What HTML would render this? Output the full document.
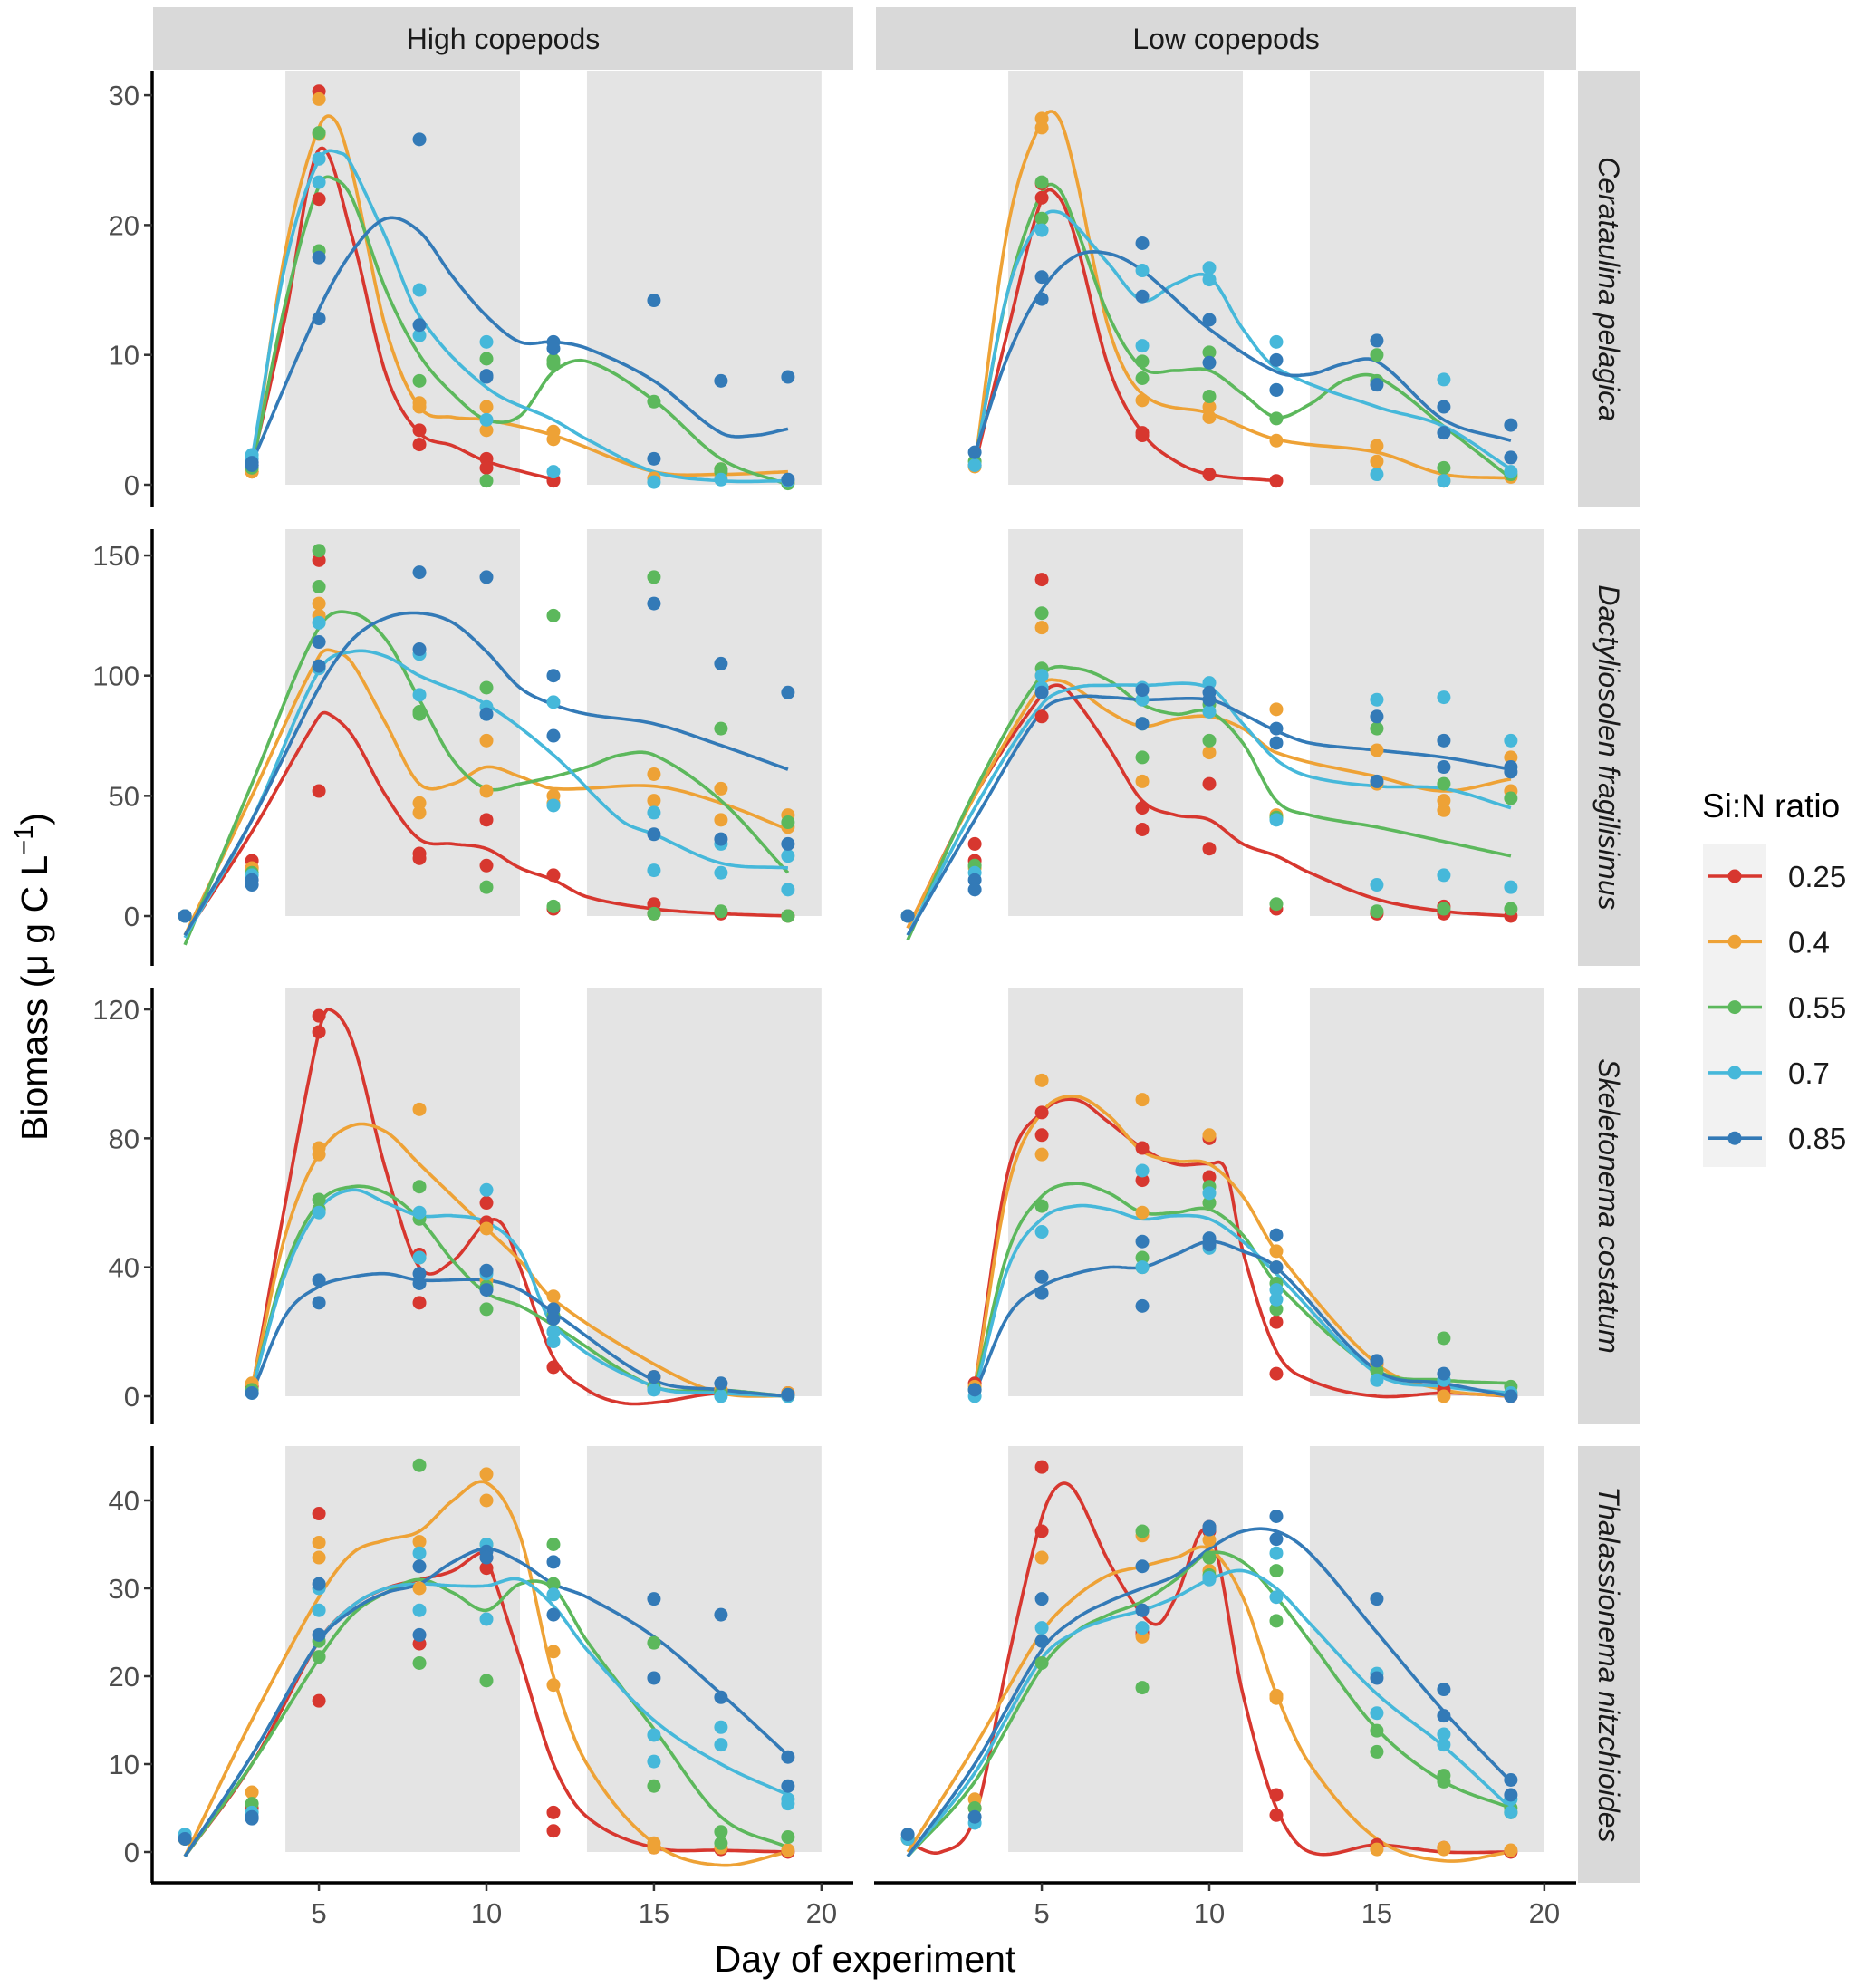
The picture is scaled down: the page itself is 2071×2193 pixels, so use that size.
<!DOCTYPE html>
<html><head><meta charset="utf-8"><style>
html,body{margin:0;padding:0;background:#fff;}
svg{display:block;font-family:"Liberation Sans",Arial,sans-serif;}
</style></head><body>
<svg id="chart" width="2071" height="2193" viewBox="0 0 2071 2193" xmlns="http://www.w3.org/2000/svg"></svg>
<script>
const ratios = ['0.25','0.4','0.55','0.7','0.85'];
const colors = ['#d7372f','#eea236','#5cb85c','#46b8da','#337ab7'];
const columns = ['High copepods','Low copepods'];
const speciesNames = ['Cerataulina pelagica','Dactyliosolen fragilisimus','Skeletonema costatum','Thalassionema nitzchioides'];
const yTicksCera = [0,10,20,30];
const yTicksDact = [0,50,100,150];
const yTicksSkel = [0,40,80,120];
const yTicksThal = [0,10,20,30,40];
const xTicks = [5,10,15,20];
const shadeDays = [[4,11],[13,20]];

const ptsCeraHigh = [
 [[3,1.5,1],[5,30.3,22],[8,4.2,3.1],[10,2,1.3],[12,0.4,0.3]],
 [[3,1,1],[5,29.7,27],[8,6.3,6],[10,6,4.2],[12,4.1,3.5],[15,0.5],[17,1.2,0.8],[19,0.2]],
 [[3,1.3],[5,27.1,18],[8,8],[10,9.7,0.3],[12,9.3,9.6],[15,6.4],[17,1.2,1],[19,0.1]],
 [[3,2.3,2],[5,25.1,23.3],[8,15,11.5],[10,11,5],[12,1],[15,0.2],[17,0.4],[19,0.3]],
 [[3,1.7,1.5],[5,17.5,12.8],[8,26.6,12.3],[10,8.4,8.3],[12,11,10.5],[15,14.2,2],[17,8],[19,8.3,0.4]]];
const ptsCeraLow = [
 [[3,1.5],[5,23.2,22.1],[8,4,3.8],[10,0.8],[12,0.3]],
 [[3,1.4],[5,28.2,27.5],[8,6.5],[10,6,5.2],[12,3.4],[15,3,1.8],[17,0.3],[19,0.6]],
 [[3,1.8],[5,23.3,20.5],[8,9.5,8.2],[10,10.2,6.8],[12,5.1],[15,10,8],[17,1.3],[19,0.8]],
 [[3,1.5],[5,19.6],[8,16.5,10.7],[10,16.7,15.8],[12,11,7.3],[15,0.8],[17,8.1,0.3],[19,1]],
 [[3,2.5],[5,16,14.3],[8,18.6,14.5],[10,12.7,9.4],[12,9.6,7.3],[15,11.1,7.7],[17,6,4],[19,4.6,2.1]]];
const ptsDactHigh = [
 [[1,0],[3,23,20],[5,148,52],[8,26,24],[10,40,21],[12,17,3],[15,5,1],[17,1],[19,0]],
 [[1,0],[3,20],[5,130,125],[8,47,43],[10,73,52],[12,50,47],[15,59,48],[17,53,40],[19,42,37]],
 [[1,0],[3,18],[5,152,137],[8,85,84],[10,95,12],[12,125,4],[15,141,1],[17,78,2],[19,39,0]],
 [[1,0],[3,17],[5,122,103],[8,109,92],[10,87,84],[12,89,46],[15,43,19],[17,30,18],[19,25,11]],
 [[1,0],[3,15,13],[5,114,104],[8,143,111],[10,141,84],[12,100,75],[15,130,34],[17,105,32],[19,93,30]]];
const ptsDactLow = [
 [[1,0],[3,30,23],[5,140,83],[8,45,36],[10,55,28],[12,3],[15,1],[17,4,1],[19,0]],
 [[1,0],[3,20],[5,120,100],[8,56],[10,68],[12,86,42],[15,69,55],[17,48,44],[19,66,52]],
 [[1,0],[3,21],[5,126,103],[8,66,80],[10,73,88],[12,5,41],[15,78,2],[17,55,3],[19,49,3]],
 [[1,0],[3,18],[5,100,95],[8,90,95],[10,97,85],[12,40],[15,90,13],[17,91,17],[19,73,12]],
 [[1,0],[3,15,11],[5,93],[8,94,80],[10,90,93],[12,78,72],[15,83,56],[17,73,62],[19,62,60]]];
const ptsSkelHigh = [
 [[3,3],[5,118,113],[8,44,29],[10,60,54],[12,9],[15,6],[17,2],[19,1]],
 [[3,4],[5,77,75],[8,89,43],[10,52,36],[12,31,25],[15,6],[17,2],[19,1]],
 [[3,2],[5,61,58],[8,65,55],[10,34,27],[12,25,20],[15,3],[17,1],[19,0]],
 [[3,1],[5,57],[8,57,43],[10,64,38],[12,20,17],[15,2],[17,0],[19,0]],
 [[3,1],[5,36,29],[8,38,35],[10,39,33],[12,27,24],[15,6],[17,4],[19,0.5]]];
const ptsSkelLow = [
 [[3,4],[5,88,81],[8,77,67],[10,80,68],[12,23,7],[15,10],[17,2],[19,0]],
 [[3,3],[5,98,75],[8,92,57],[10,81,60],[12,45,40],[15,10],[17,0],[19,1]],
 [[3,2],[5,59],[8,43,40],[10,65,60],[12,35,27],[15,8],[17,18,5],[19,3]],
 [[3,0],[5,51],[8,70,40],[10,63,46],[12,33,30],[15,5],[17,5],[19,1]],
 [[3,2],[5,37,32],[8,48,28],[10,49,47],[12,50,40],[15,11],[17,7],[19,0]]];
const ptsThalHigh = [
 [[1,1.5],[3,5],[5,38.5,17.2],[8,23.7],[10,33.5,32.3],[12,4.5,2.4],[15,0.5],[17,0.3],[19,0]],
 [[1,1.5],[3,6.8],[5,35.2,33.5],[8,35.3,30],[10,43,40],[12,22.8,19],[15,1,0.5],[17,0.5],[19,0.2]],
 [[1,1.5],[3,5.5],[5,22.2,24],[8,44,21.5],[10,35,19.5],[12,35,30.5],[15,23.8,7.5],[17,2.3,1],[19,1.7]],
 [[1,2],[3,4.5],[5,30,27.5],[8,34,27.5],[10,35,26.5],[12,29.3],[15,13.3,10.3],[17,14.2,12.2],[19,6,5.5]],
 [[1,1.5],[3,4,3.8],[5,30.5,24.7],[8,32.5,24.7],[10,34.2,33.5],[12,33,27],[15,28.8,19.8],[17,27,17.6],[19,10.8,7.5]]];
const ptsThalLow = [
 [[1,1.5],[3,5],[5,43.8,36.5],[8,25,24.7],[10,37,36.5],[12,6.5,4.2],[15,0.8],[17,0.5],[19,0]],
 [[1,1.5],[3,6],[5,33.5],[8,24.5,36],[10,35.5,32],[12,17.8,17.5],[15,0.3],[17,0.5,0.3],[19,0.2]],
 [[1,1.5],[3,5],[5,21.5],[8,36.5,18.7],[10,33.5,31.5],[12,32,26.3],[15,13.8,11.4],[17,8.7,8],[19,5,4.5]],
 [[1,1.5],[3,3.3],[5,25.5],[8,27.5,25.5],[10,31.2,31],[12,34,29],[15,20.3,15.8],[17,13.4,12.2],[19,6,4.5]],
 [[1,2],[3,4],[5,28.8,24],[8,32.5,27.5],[10,37,36.7],[12,38.2,35.6],[15,28.8,19.8],[17,18.5,15.5],[19,8.2,6.5]]];

const curCeraHigh = [
 [[3,1.5],[4,13],[5,25.8],[6,19],[7,8.5],[8,4],[9,3],[10,1.8],[12,0.4]],
 [[3,1],[4,18],[5,27.5],[5.5,28],[6,24],[7,12],[8,6],[9,5.2],[10,5],[12,3.8],[15,1],[17,0.8],[19,1]],
 [[3,1.2],[4,14],[5,23],[5.5,23.5],[6,22],[7,15],[8,10],[9,7],[10,5],[11,5.3],[12,8.7],[13,9.5],[15,6.5],[17,2],[19,0]],
 [[3,2],[4,17],[5,25],[5.7,25.5],[6,24.5],[7,19],[8,13],[10,7.5],[12,5],[13,3.5],[15,1],[17,0.3],[19,0.3]],
 [[3,1.7],[5,13.5],[6,18],[7,20.5],[8,19.5],[9,16],[10,13],[11,11],[12,11],[13,10.5],[15,8],[17,4],[18,3.8],[19,4.3]]];
const curCeraLow = [
 [[3,1.5],[4,12],[5,22],[5.5,22.2],[6,19],[7,9],[8,4],[9,1.8],[10,0.8],[12,0.3]],
 [[3,1.5],[4,20],[5,28],[5.5,28.3],[6,24],[7,12],[8,7],[10,5.5],[12,3.5],[15,2.5],[17,0.8],[19,0.5]],
 [[3,1.8],[4,15],[5,22.5],[5.5,22.8],[6,20],[7,13],[8,9],[9,8.8],[10,8.8],[11,7],[12,5.2],[13,6.2],[14,8],[15,8.3],[17,4.5],[19,0.5]],
 [[3,1.7],[4,15],[5,20.5],[5.5,21],[6,20],[7,17],[8,14.2],[9,15.5],[10,16],[11,12],[12,9],[15,6],[17,4.5],[19,1.2]],
 [[3,2.4],[4,10],[5,15],[6,17.6],[7,17.8],[8,16.5],[10,12],[12,8.7],[13,8.5],[14,9.3],[15,9.5],[17,5],[19,3.4]]];
const curDactHigh = [
 [[1,-8],[3,35],[5,83],[5.3,84],[6,75],[7,50],[8,32],[9,30],[10,28],[11,20],[12,15],[13,8],[15,3],[17,1],[19,0]],
 [[1,-8],[3,50],[5,108],[5.5,110],[6,105],[7,80],[8,55],[9,55],[10,62],[11,58],[12,53],[15,54],[17,47],[19,36]],
 [[1,-12],[3,55],[5,120],[6,126],[7,115],[8,90],[9,65],[10,53],[11,55],[12,58],[13,62],[14,67],[15,67],[17,48],[19,18]],
 [[1,-9],[3,40],[5,102],[6,110],[7,108],[8,100],[10,88],[12,67],[14,40],[15,34],[17,22],[19,20]],
 [[1,-8],[3,40],[5,95],[6,115],[7,124],[8,126],[9,122],[10,110],[11,95],[12,88],[13,84],[15,80],[17,71],[19,61]]];
const curDactLow = [
 [[1,-5],[3,50],[5,92],[5.5,96],[6,90],[7,70],[8,48],[9,42],[10,40],[11,30],[12,25],[13,18],[15,7],[17,2],[19,0]],
 [[1,-5],[3,50],[5,96],[5.5,98],[6,95],[7,85],[8,79],[9,82],[10,83],[11,78],[12,68],[15,58],[17,52],[19,57]],
 [[1,-10],[3,52],[5,100],[6,103],[7,98],[8,88],[9,84],[10,85],[11,72],[12,48],[13,42],[15,37],[17,31],[19,25]],
 [[1,-8],[3,45],[5,88],[6,95],[7,96],[8,96],[10,95],[11,80],[12,65],[13,58],[15,54],[17,53],[19,45]],
 [[1,-8],[3,40],[5,85],[6,91],[7,91],[8,90],[10,90],[11,84],[12,77],[13,72],[15,69],[17,66],[19,61]]];
const curSkelHigh = [
 [[3,2],[4,60],[5,113],[5.3,120],[6,110],[7,70],[8,40],[9,42],[10,54],[10.5,53],[11,40],[12,12],[13,2],[14,-2],[15,-2],[17,1],[19,0]],
 [[3,3],[4,50],[5,75],[6,84],[7,82],[8,72],[9,62],[10,52],[11,42],[12,30],[15,10],[17,1],[19,0]],
 [[3,2],[4,40],[5,60],[6,65],[7,63],[8,55],[9,42],[10,32],[11,28],[12,22],[15,3],[17,2],[19,0]],
 [[3,2],[4,38],[5,58],[6,64],[7,60],[8,56],[9,56],[10,54],[11,45],[12,22],[15,3],[17,1],[19,0]],
 [[3,1],[4,25],[5,34],[6,37],[7,38],[8,36],[10,36],[11,33],[12,26],[15,5],[17,2],[19,0]]];
const curSkelLow = [
 [[3,3],[4,70],[5,88],[6,92],[7,85],[8,77],[9,72],[10,72],[10.5,70],[11,45],[12,14],[13,5],[15,0],[17,1],[19,0]],
 [[3,3],[4,65],[5,88],[6,93],[7,87],[8,76],[9,73],[10,72],[11,62],[12,45],[15,10],[17,2],[19,0]],
 [[3,2],[4,45],[5,62],[6,66],[7,63],[8,57],[9,57],[10,58],[11,50],[12,35],[15,8],[17,5],[19,4]],
 [[3,1],[4,40],[5,55],[6,59],[7,58],[8,55],[9,56],[10,55],[11,48],[12,38],[15,7],[17,3],[19,1]],
 [[3,1],[4,25],[5,34],[6,38],[7,40],[8,40],[9,44],[10,48],[11,45],[12,40],[15,8],[17,4],[19,0]]];
const curThalHigh = [
 [[1,-0.5],[3,10],[5,24],[6,28],[7,30],[8,31],[9,32],[9.8,34],[10,33.5],[11,22],[12,10],[13,4],[15,0.5],[17,0.2],[19,0]],
 [[1,-0.5],[3,15],[5,29],[6,34],[7,35.5],[8,36.5],[9,40],[10,42],[11,36],[12,20],[13,10],[15,1],[17,-1.5],[19,0]],
 [[1,-0.5],[3,10],[5,22],[6,27],[7,29.5],[8,31],[9,29.5],[10,27.5],[11,30.5],[12,30],[13,24],[15,14],[17,4],[19,0.5]],
 [[1,-0.5],[3,11],[5,24],[6,28],[7,30],[8,30.5],[9,30.3],[10,30.3],[11,31],[12,28],[13,23],[15,15],[17,10],[19,6.5]],
 [[1,-0.5],[3,11],[5,24],[6,27.5],[7,29.5],[8,30.5],[9,33],[10,34.5],[11,33],[12,30.5],[13,29],[15,24.5],[17,18],[19,11]]];
const curThalLow = [
 [[1,1],[2,0],[3,4],[4,22],[5,38],[5.5,41.7],[6,41],[7,33],[8,27],[8.5,26],[9,29],[10,36.5],[11,18],[12,5],[13,0],[15,0.8],[17,0],[19,0]],
 [[1,0],[3,12],[5,25],[6,29],[7,31.5],[8,32.5],[9,33.5],[10,34.5],[11,29],[12,18],[13,10],[15,1.5],[17,-1],[19,0]],
 [[1,-0.5],[3,8],[5,21],[6,25],[7,27],[8,28.5],[9,31],[10,34],[11,33],[12,29],[13,24],[15,14],[17,8],[19,5]],
 [[1,-0.5],[3,9],[5,22],[6,25],[7,26.5],[8,27.5],[9,29],[10,31],[11,32],[12,30],[13,26],[15,18],[17,12],[19,5]],
 [[1,-0.5],[3,10],[5,23],[6,26.5],[7,28.5],[8,30],[9,31.5],[10,34.5],[11,36.5],[12,36.5],[13,34],[15,25],[17,16],[19,8]]];

const rowPoints = [[ptsCeraHigh,ptsCeraLow],[ptsDactHigh,ptsDactLow],[ptsSkelHigh,ptsSkelLow],[ptsThalHigh,ptsThalLow]];
const rowCurves = [[curCeraHigh,curCeraLow],[curDactHigh,curDactLow],[curSkelHigh,curSkelLow],[curThalHigh,curThalLow]];
const rowTicks = [yTicksCera,yTicksDact,yTicksSkel,yTicksThal];

const NS='http://www.w3.org/2000/svg';
const svg=document.getElementById('chart');
function el(tag,attrs,parent){const e=document.createElementNS(NS,tag);for(const k in attrs)e.setAttribute(k,attrs[k]);(parent||svg).appendChild(e);return e;}

const colLeft=[169,967], colW=773;
const rowTop=[78,584,1090,1596], rowH=482;
const zeroY=[535,1011,1541,2044];
const pxPerUnit=[14.33,2.653,3.558,9.7];
function xScale(c,d){return colLeft[c]+(d-0.05)*(colW/20.9);}
function yScale(r,v){return zeroY[r]-v*pxPerUnit[r];}

function splinePath(c,r,pts){
  const xs=pts.map(p=>p[0]), ys=pts.map(p=>p[1]), n=pts.length;
  const m=[];
  for(let i=0;i<n;i++){
    if(i===0)m.push((ys[1]-ys[0])/(xs[1]-xs[0]));
    else if(i===n-1)m.push((ys[n-1]-ys[n-2])/(xs[n-1]-xs[n-2]));
    else m.push((ys[i+1]-ys[i-1])/(xs[i+1]-xs[i-1]));
  }
  let d='';
  for(let i=0;i<n-1;i++){
    const h=xs[i+1]-xs[i];
    for(let s=0;s<=20;s++){
      if(i>0&&s===0)continue;
      const t=s/20,t2=t*t,t3=t2*t;
      const v=(2*t3-3*t2+1)*ys[i]+(t3-2*t2+t)*h*m[i]+(-2*t3+3*t2)*ys[i+1]+(t3-t2)*h*m[i+1];
      const X=xScale(c,xs[i]+t*h),Y=yScale(r,v);
      d+=(d?'L':'M')+X.toFixed(1)+','+Y.toFixed(1);
    }
  }
  return d;
}

for(let c=0;c<2;c++){
  const g=el('g',{});
  
  
  el('rect',{x:colLeft[c],y:8,width:colW,height:69,fill:'#d9d9d9'},g);
  const t=el('text',{x:colLeft[c]+colW/2,y:54,'text-anchor':'middle','font-size':32,fill:'#1a1a1a'},g);
  t.textContent=columns[c];
}

for(let r=0;r<4;r++){
  const sg=el('g',{});
  
  
  el('rect',{x:1742,y:rowTop[r],width:68,height:rowH,fill:'#d9d9d9'},sg);
  const cy=rowTop[r]+rowH/2;
  const st=el('text',{x:1765,y:cy,'text-anchor':'middle','font-size':32,'font-style':'italic',fill:'#1a1a1a',transform:`rotate(90 1765 ${cy})`},sg);
  st.textContent=speciesNames[r];

  for(let c=0;c<2;c++){
    const pg=el('g',{});
    
    
    for(const [a,b] of shadeDays){
      const sh=el('rect',{x:xScale(c,a),y:rowTop[r],width:xScale(c,b)-xScale(c,a),height:yScale(r,0)-rowTop[r],fill:'#e4e4e4'},pg);
      
      
    }
    const curves=rowCurves[r][c];
    for(let s=0;s<5;s++){
      const p=el('path',{d:splinePath(c,r,curves[s]),fill:'none',stroke:colors[s],'stroke-width':3.6,'stroke-linejoin':'round'},pg);
      
      
    }
    const pts=rowPoints[r][c];
    for(let s=0;s<5;s++){
      for(const row of pts[s]){
        for(let k=1;k<row.length;k++){
          const pt=el('circle',{cx:xScale(c,row[0]),cy:yScale(r,row[k]),r:7.5,fill:colors[s]},pg);
          
          
        }
      }
    }
  }
  const ag=el('g',{});
  
  
  el('line',{x1:168,y1:rowTop[r],x2:168,y2:rowTop[r]+rowH,stroke:'#000','stroke-width':3.5},ag);
  for(const v of rowTicks[r]){
    const y=yScale(r,v);
    el('line',{x1:159,y1:y,x2:168,y2:y,stroke:'#333','stroke-width':2.5},ag);
    const t=el('text',{x:154,y:y+11,'text-anchor':'end','font-size':31,fill:'#4d4d4d'},ag);
    t.textContent=v;
  }
}
for(let c=0;c<2;c++){
  const xg=el('g',{});
  
  
  const yb=rowTop[3]+rowH;
  el('line',{x1:colLeft[c]-2,y1:yb,x2:colLeft[c]+colW,y2:yb,stroke:'#000','stroke-width':3.5},xg);
  for(const d of xTicks){
    const x=xScale(c,d);
    el('line',{x1:x,y1:yb,x2:x,y2:yb+9,stroke:'#333','stroke-width':2.5},xg);
    const t=el('text',{x:x,y:yb+44,'text-anchor':'middle','font-size':31,fill:'#4d4d4d'},xg);
    t.textContent=d;
  }
}
const xt=el('text',{x:955,y:2176,'text-anchor':'middle','font-size':41,fill:'#000'});


xt.textContent='Day of experiment';
const yt=el('text',{x:52,y:1078,'text-anchor':'middle','font-size':41,fill:'#000',transform:'rotate(-90 52 1078)'});


yt.innerHTML='Biomass  (\u03bc g C L<tspan dy="-16" font-size="29">\u22121</tspan><tspan dy="16">)</tspan>';

const lg=el('g',{});


const lt=el('text',{x:1879,y:902,'font-size':37,fill:'#000'},lg);
lt.textContent='Si:N ratio';
el('rect',{x:1880,y:932,width:70,height:356,fill:'#f2f2f2'},lg);
for(let s=0;s<5;s++){
  const y=967+s*72.3;
  const e=el('g',{},lg);
  
  
  el('line',{x1:1885,y1:y,x2:1945,y2:y,stroke:colors[s],'stroke-width':3.6},e);
  el('circle',{cx:1915,cy:y,r:7.5,fill:colors[s]},e);
  const t=el('text',{x:1974,y:y+12,'font-size':33,fill:'#1a1a1a'},e);
  t.textContent=ratios[s];
}
</script>
</body></html>
